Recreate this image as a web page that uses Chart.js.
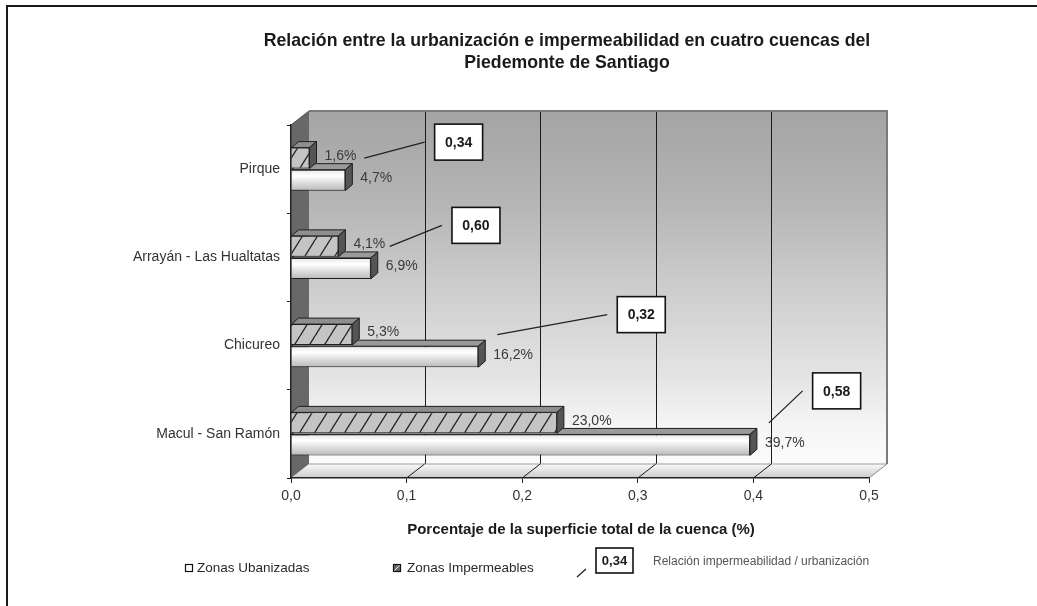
<!DOCTYPE html>
<html>
<head>
<meta charset="utf-8">
<script src="https://cdn.jsdelivr.net/npm/chart.js@4.4.1/dist/chart.umd.min.js"></script>
<style>
html,body{margin:0;padding:0;background:#fff;}
canvas{display:block;}
</style>
</head>
<body>
<canvas id="c" width="1037" height="606"></canvas>
<script>
// ---------- data ----------
const categories = ['Pirque', 'Arrayán - Las Hualtatas', 'Chicureo', 'Macul - San Ramón'];
const zonasUrbanizadas = [0.047, 0.069, 0.162, 0.397];
const zonasImpermeables = [0.016, 0.041, 0.053, 0.230];
const relacion = [0.34, 0.60, 0.32, 0.58];
const xTickValues = [0, 0.1, 0.2, 0.3, 0.4, 0.5];
const seriesNames = ['Zonas Ubanizadas', 'Zonas Impermeables'];
const titleLines = ['Relación entre la urbanización e impermeabilidad en cuatro cuencas del', 'Piedemonte de Santiago'];
const xTitle = 'Porcentaje de la superficie total de la cuenca (%)';
const ratioLegendText = 'Relación impermeabilidad / urbanización';
const ratioLegendSample = 0.34;

// ---------- layout of the ratio call-outs (x in axis units, y offset in px from category centre) ----------
const calloutX = [0.145, 0.160, 0.303, 0.472];
const calloutDY = [-27, -32, -31, -43];

const FONT = '"Liberation Sans", Arial, sans-serif';
const WX = 18, WY = 14;   // depth of walls / floor
const BX = 7, BY = 6;     // depth of bars

const fmtTick = v => Number(v).toFixed(1).replace('.', ',');
const fmtPct = v => (v * 100).toFixed(1).replace('.', ',') + '%';
const fmtRatio = v => v.toFixed(2).replace('.', ',');

const mainCtx = document.getElementById('c').getContext('2d');
const hatchPattern = (() => {
  const W = 15, H = 24;
  const c = document.createElement('canvas');
  c.width = W; c.height = H;
  const g = c.getContext('2d');
  g.fillStyle = '#c4c4c4'; g.fillRect(0, 0, W, H);
  g.strokeStyle = '#262626'; g.lineWidth = 1.3;
  g.beginPath();
  for (let k = -1; k <= 1; k++) { g.moveTo(k * W, H); g.lineTo(k * W + W, 0); }
  g.stroke();
  return mainCtx.createPattern(c, 'repeat');
})();

function whiteFill(ctx) {
  const chart = ctx.chart;
  const ys = chart.scales && chart.scales.y;
  if (!ys || ctx.dataIndex === undefined || !chart.chartArea) return '#eeeeee';
  const c = ys.getPixelForValue(ctx.dataIndex);
  const band = Math.abs(ys.getPixelForValue(1) - ys.getPixelForValue(0));
  const g = chart.ctx.createLinearGradient(0, c, 0, c + band * 0.25);
  g.addColorStop(0, '#e4e4e4');
  g.addColorStop(0.3, '#ffffff');
  g.addColorStop(1, '#b6b6b6');
  return g;
}

const decor = {
  id: 'decor',
  beforeDraw(chart) {
    const { ctx, chartArea: a } = chart;
    const xs = chart.scales.x;
    ctx.save();
    // frame
    ctx.strokeStyle = '#1a1a1a'; ctx.lineWidth = 2;
    ctx.beginPath(); ctx.moveTo(7, 606); ctx.lineTo(7, 6); ctx.lineTo(1037, 6); ctx.stroke();
    // title
    ctx.fillStyle = '#1a1a1a'; ctx.font = 'bold 17.7px ' + FONT;
    ctx.textAlign = 'center'; ctx.textBaseline = 'middle';
    ctx.fillText(titleLines[0], 567, 41);
    ctx.fillText(titleLines[1], 567, 63);
    // back wall
    const L = a.left + WX, R = a.right + WX, T = a.top - WY, B = a.bottom - WY;
    const wg = ctx.createLinearGradient(0, T, 0, B);
    wg.addColorStop(0, '#a4a4a4');
    wg.addColorStop(0.25, '#b4b4b4');
    wg.addColorStop(0.5, '#cdcdcd');
    wg.addColorStop(0.75, '#e4e4e4');
    wg.addColorStop(0.9, '#f6f6f6');
    wg.addColorStop(1, '#fbfbfb');
    ctx.fillStyle = wg; ctx.fillRect(L, T, R - L, B - T);
    // back wall grid lines
    ctx.strokeStyle = '#1a1a1a'; ctx.lineWidth = 1;
    xTickValues.slice(1, -1).forEach(v => {
      const px = Math.round(xs.getPixelForValue(v) + WX) + 0.5;
      ctx.beginPath(); ctx.moveTo(px, T); ctx.lineTo(px, B); ctx.stroke();
    });
    ctx.strokeStyle = '#7a7a7a'; ctx.lineWidth = 2;
    ctx.beginPath(); ctx.moveTo(L, T); ctx.lineTo(R, T); ctx.lineTo(R, B); ctx.stroke();
    // floor
    const fg = ctx.createLinearGradient(0, B, 0, a.bottom);
    fg.addColorStop(0, '#fafafa'); fg.addColorStop(1, '#cacaca');
    ctx.fillStyle = fg;
    ctx.beginPath(); ctx.moveTo(a.left, a.bottom); ctx.lineTo(a.right, a.bottom);
    ctx.lineTo(R, B); ctx.lineTo(L, B); ctx.closePath(); ctx.fill();
    ctx.strokeStyle = '#9a9a9a'; ctx.lineWidth = 1;
    ctx.beginPath(); ctx.moveTo(L, B); ctx.lineTo(R, B); ctx.stroke();
    xTickValues.slice(1).forEach((v, i, arr) => {
      const px = xs.getPixelForValue(v);
      ctx.strokeStyle = i === arr.length - 1 ? '#8a8a8a' : '#1a1a1a';
      ctx.beginPath(); ctx.moveTo(px, a.bottom); ctx.lineTo(px + WX, B); ctx.stroke();
    });
    // side wall
    ctx.fillStyle = '#686868';
    ctx.beginPath(); ctx.moveTo(a.left, a.top); ctx.lineTo(L, T); ctx.lineTo(L, B);
    ctx.lineTo(a.left, a.bottom); ctx.closePath(); ctx.fill();
    ctx.strokeStyle = '#4a4a4a'; ctx.lineWidth = 1;
    ctx.beginPath(); ctx.moveTo(a.left, a.top); ctx.lineTo(L, T); ctx.stroke();
    ctx.restore();
  },
  afterDatasetDraw(chart, args) {
    const { ctx } = chart;
    const meta = args.meta;
    const isHatch = meta.index === 0;
    ctx.save();
    ctx.lineWidth = 1; ctx.strokeStyle = '#1e1e1e'; ctx.lineJoin = 'round';
    meta.data.forEach(el => {
      const { x, y, base, height } = el.getProps(['x', 'y', 'base', 'height'], true);
      const top = y - height / 2, bot = y + height / 2;
      ctx.fillStyle = isHatch ? '#8e8e8e' : '#9a9a9a';
      ctx.beginPath(); ctx.moveTo(base, top); ctx.lineTo(base + BX, top - BY);
      ctx.lineTo(x + BX, top - BY); ctx.lineTo(x, top); ctx.closePath(); ctx.fill(); ctx.stroke();
      ctx.fillStyle = '#555555';
      ctx.beginPath(); ctx.moveTo(x, top); ctx.lineTo(x + BX, top - BY);
      ctx.lineTo(x + BX, bot - BY); ctx.lineTo(x, bot); ctx.closePath(); ctx.fill(); ctx.stroke();
    });
    ctx.restore();
  },
  afterDatasetsDraw(chart) {
    const { ctx } = chart;
    const xs = chart.scales.x, ys = chart.scales.y;
    ctx.save();
    ctx.font = '14px ' + FONT; ctx.fillStyle = '#3a3a3a';
    ctx.textAlign = 'left'; ctx.textBaseline = 'middle';
    [0, 1].forEach(d => {
      const meta = chart.getDatasetMeta(d);
      const vals = chart.data.datasets[d].data;
      meta.data.forEach((el, i) => {
        ctx.fillText(fmtPct(vals[i]), el.x + BX + 8, el.y - 2);
      });
    });
    relacion.forEach((r, i) => {
      const c = ys.getPixelForValue(i);
      const bx = xs.getPixelForValue(calloutX[i]);
      const by = c + calloutDY[i];
      const w = 48, h = 36;
      ctx.strokeStyle = '#222'; ctx.lineWidth = 1.3;
      ctx.beginPath();
      ctx.moveTo(xs.getPixelForValue(zonasUrbanizadas[i]) + 19, c - 11);
      ctx.lineTo(bx - w / 2 - 10, by);
      ctx.stroke();
      ctx.fillStyle = '#fff';
      ctx.fillRect(bx - w / 2, by - h / 2, w, h);
      ctx.lineWidth = 1.6; ctx.strokeStyle = '#111';
      ctx.strokeRect(bx - w / 2, by - h / 2, w, h);
      ctx.fillStyle = '#1a1a1a'; ctx.font = 'bold 14px ' + FONT;
      ctx.textAlign = 'center';
      ctx.fillText(fmtRatio(r), bx, by + 1);
    });
    ctx.restore();
  },
  afterDraw(chart) {
    const { ctx, chartArea: a } = chart;
    ctx.save();
    ctx.fillStyle = '#1a1a1a'; ctx.font = 'bold 15px ' + FONT;
    ctx.textAlign = 'center'; ctx.textBaseline = 'middle';
    ctx.fillText(xTitle, (a.left + a.right) / 2 + 1, 530);
    ctx.font = '13.5px ' + FONT; ctx.textAlign = 'left';
    ctx.lineWidth = 1.2; ctx.strokeStyle = '#111';
    ctx.fillStyle = '#fff'; ctx.fillRect(185.5, 564.5, 7, 7); ctx.strokeRect(185.5, 564.5, 7, 7);
    ctx.fillStyle = '#2a2a2a'; ctx.fillText(seriesNames[0], 197, 568);
    ctx.fillStyle = '#6a6a6a'; ctx.fillRect(393.5, 564.5, 7, 7);
    ctx.strokeRect(393.5, 564.5, 7, 7);
    ctx.strokeStyle = '#eee'; ctx.lineWidth = 1;
    ctx.beginPath(); ctx.moveTo(394.5, 570.5); ctx.lineTo(399.5, 565.5); ctx.stroke();
    ctx.fillStyle = '#2a2a2a'; ctx.fillText(seriesNames[1], 407, 568);
    ctx.strokeStyle = '#222'; ctx.lineWidth = 1.3;
    ctx.beginPath(); ctx.moveTo(577, 577); ctx.lineTo(586, 569); ctx.stroke();
    ctx.fillStyle = '#fff'; ctx.fillRect(596, 548, 37, 25);
    ctx.lineWidth = 1.6; ctx.strokeStyle = '#111'; ctx.strokeRect(596, 548, 37, 25);
    ctx.fillStyle = '#1a1a1a'; ctx.font = 'bold 13px ' + FONT; ctx.textAlign = 'center';
    ctx.fillText(fmtRatio(ratioLegendSample), 614.5, 561);
    ctx.font = '12px ' + FONT; ctx.textAlign = 'left'; ctx.fillStyle = '#555';
    ctx.fillText(ratioLegendText, 653, 562);
    ctx.restore();
  }
};

new Chart(mainCtx, {
  type: 'bar',
  data: {
    labels: categories,
    datasets: [
      { label: seriesNames[1], data: zonasImpermeables, backgroundColor: hatchPattern,
        borderColor: '#1e1e1e', borderWidth: 1, categoryPercentage: 0.5, barPercentage: 0.95 },
      { label: seriesNames[0], data: zonasUrbanizadas, backgroundColor: whiteFill,
        borderColor: '#1e1e1e', borderWidth: 1, categoryPercentage: 0.5, barPercentage: 0.95 }
    ]
  },
  options: {
    indexAxis: 'y',
    responsive: false,
    animation: false,
    devicePixelRatio: 1,
    layout: { padding: { left: 0, right: 168, top: 125, bottom: 0 } },
    plugins: { legend: { display: false }, title: { display: false }, tooltip: { enabled: false } },
    scales: {
      x: {
        type: 'linear', min: 0, max: 0.5,
        afterFit(s) { s.height = 128; },
        afterBuildTicks(s) { s.ticks = xTickValues.map(v => ({ value: v })); },
        ticks: { callback: v => fmtTick(v), font: { family: FONT, size: 14 }, color: '#333', padding: 5, maxRotation: 0 },
        grid: { drawOnChartArea: false, drawTicks: true, tickLength: 5, color: '#222' },
        border: { display: true, color: '#222', width: 1.5 }
      },
      y: {
        afterFit(s) { s.width = 291; },
        ticks: { font: { family: FONT, size: 14 }, color: '#333', padding: 7 },
        grid: { drawOnChartArea: false, drawTicks: true, tickLength: 4, color: '#222', offset: true },
        border: { display: true, color: '#222', width: 1.5 }
      }
    }
  },
  plugins: [decor]
});
</script>
</body>
</html>
